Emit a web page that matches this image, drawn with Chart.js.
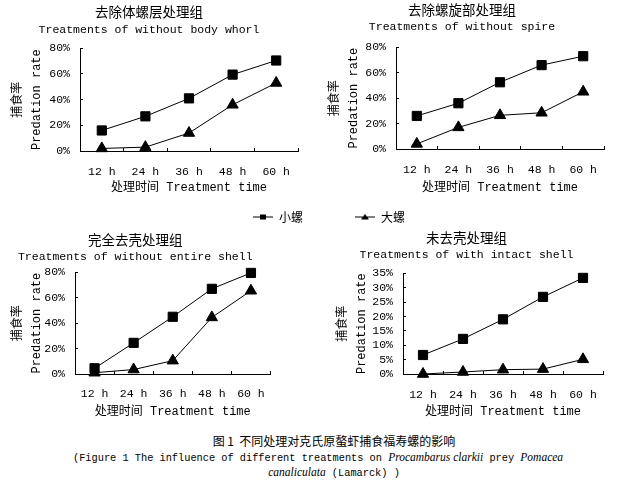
<!DOCTYPE html>
<html><head><meta charset="utf-8">
<script src="https://cdn.jsdelivr.net/npm/chart.js@4.4.1/dist/chart.umd.min.js"></script>
<style>
html,body{margin:0;padding:0;width:618px;height:489px;overflow:hidden;background:#fff;position:relative;}
canvas{position:absolute;}
.cap{position:absolute;white-space:nowrap;color:#000;line-height:14px;}
.cn{font-family:'Noto Sans CJK SC',sans-serif;font-size:12px;}
.en{font-family:'Liberation Mono',monospace;font-size:10.3px;}
.it{font-family:'Liberation Serif',serif;font-style:italic;font-size:11.5px;}
</style></head><body>
<canvas id="legendCanvas" width="300" height="90" style="left:179px;top:159px"></canvas>
<canvas id="c1" width="352" height="200" style="left:0;top:0"></canvas>
<canvas id="c2" width="400" height="200" style="left:320px;top:0"></canvas>
<canvas id="c3" width="360" height="200" style="left:0;top:228px"></canvas>
<canvas id="c4" width="330" height="200" style="left:330px;top:226px"></canvas>
<div class="cap cn" style="left:134px;width:400px;text-align:center;top:434px">图 1&nbsp;&nbsp;不同处理对克氏原螯虾捕食福寿螺的影响</div>
<div class="cap en" style="left:73px;top:450px">(Figure 1 The influence of different treatments on <span class="it">Procambarus clarkii</span> prey <span class="it">Pomacea</span></div>
<div class="cap en" style="left:134px;width:400px;text-align:center;top:465px"><span class="it">canaliculata</span> (Lamarck) )</div>
<script>
// ---- data ----
const timeLabels = ['12 h', '24 h', '36 h', '48 h', '60 h'];
const seriesNames = ['小螺', '大螺'];
const yTitle = ['捕食率', 'Predation rate'];
const xTitle = '处理时间 Treatment time';

const bodyWhorlTitle = ['去除体螺层处理组', 'Treatments of without body whorl'];
const bodyWhorlSmall = [16, 27, 41, 59.5, 70.5];
const bodyWhorlLarge = [2, 3, 14, 36, 53];

const spireTitle = ['去除螺旋部处理组', 'Treatments of without spire'];
const spireSmall = [26, 36, 52.5, 66, 73];
const spireLarge = [4, 17, 26.5, 28.5, 45];

const entireShellTitle = ['完全去壳处理组', 'Treatments of without entire shell'];
const entireShellSmall = [4.5, 24.5, 45, 67, 79.5];
const entireShellLarge = [1, 3.5, 10.5, 44.5, 65.5];

const intactShellTitle = ['未去壳处理组', 'Treatments of with intact shell'];
const intactShellSmall = [6.6, 12.2, 19, 26.8, 33.4];
const intactShellLarge = [0, 0.7, 1.5, 1.7, 5.1];

const yMaxes = [80, 80, 80, 35];
const ySteps = [20, 20, 20, 5];

// ---- rendering ----
const MONO = "'Liberation Mono', 'Noto Sans CJK SC', monospace";
const CJK = "'Noto Sans CJK SC', sans-serif";
Chart.defaults.color = '#000';

function makePanel(id, titles, small, large, yMax, yStep, L) {
  new Chart(document.getElementById(id), {
    type: 'line',
    data: {
      labels: timeLabels,
      datasets: [
        {label: seriesNames[0], data: small, borderColor: '#000', backgroundColor: '#000', borderWidth: 1,
         pointStyle: 'rect', pointRadius: 6.5, pointBorderWidth: 1, tension: 0, clip: false},
        {label: seriesNames[1], data: large, borderColor: '#000', backgroundColor: '#000', borderWidth: 1,
         pointStyle: 'triangle', pointRadius: 6.5, pointBorderWidth: 1, tension: 0, clip: false}
      ]
    },
    options: {
      responsive: false, animation: false, events: [],
      layout: {padding: {left: 0, right: L.padR, top: 0, bottom: 0}},
      plugins: {
        legend: {display: false},
        tooltip: {enabled: false},
        title: {display: true, text: titles[0], color: '#000',
                font: {family: CJK, size: 13.5, weight: 'normal', lineHeight: 1.2},
                padding: {top: L.t1, bottom: 0}},
        subtitle: {display: true, text: titles[1], color: '#000',
                font: {family: MONO, size: 11.5, weight: 'normal', lineHeight: 1.2},
                padding: {top: L.t2, bottom: L.t3}}
      },
      scales: {
        x: {
          type: 'category', offset: true,
          grid: {display: true, offset: true, drawOnChartArea: false, drawTicks: true, tickLength: -3, color: '#000', lineWidth: 1},
          border: {display: true, color: '#000', width: 1},
          ticks: {color: '#000', font: {family: MONO, size: 11.5, lineHeight: 1.2}, padding: L.xPad, maxRotation: 0, autoSkip: false},
          title: {display: true, text: xTitle, color: '#000', font: {family: MONO, size: 12, lineHeight: 1.2},
                  padding: {top: 0, bottom: L.xtPad}},
          afterFit: s => { s.height = L.xH; }
        },
        y: {
          type: 'linear', min: 0, max: yMax,
          grid: {display: true, drawOnChartArea: false, drawTicks: true, tickLength: -3, color: '#000', lineWidth: 1},
          border: {display: true, color: '#000', width: 1},
          ticks: {stepSize: yStep, autoSkip: false, callback: v => v + '%', color: '#000', font: {family: MONO, size: 11.5}, padding: 13},
          title: {display: true, text: yTitle, color: '#000', font: {family: MONO, size: 12, lineHeight: 1.6},
                  padding: {top: L.ytPad, bottom: 0}},
          afterFit: s => { s.width = L.yW; }
        }
      }
    }
  });
}

makePanel('c1', bodyWhorlTitle, bodyWhorlSmall, bodyWhorlLarge, yMaxes[0], ySteps[0],
  {padR: 54, t1: 3.9, t2: 3.3, t3: 11.1, xPad: 17, xtPad: 4.8, xH: 49, yW: 80, ytPad: 8.4});
makePanel('c2', spireTitle, spireSmall, spireLarge, yMaxes[1], ySteps[1],
  {padR: 116, t1: 1.9, t2: 2.3, t3: 13.1, xPad: 17, xtPad: 4.8, xH: 51, yW: 76, ytPad: 5.4});
makePanel('c3', entireShellTitle, entireShellSmall, entireShellLarge, yMaxes[2], ySteps[2],
  {padR: 89.5, t1: 3.9, t2: 2.3, t3: 8.1, xPad: 16, xtPad: 8.8, xH: 54, yW: 75, ytPad: 8.4});
makePanel('c4', intactShellTitle, intactShellSmall, intactShellLarge, yMaxes[3], ySteps[3],
  {padR: 57, t1: 3.9, t2: 2.3, t3: 11.1, xPad: 17, xtPad: 6.8, xH: 52, yW: 73, ytPad: 3.4});

// ---- legend (line + marker swatches) ----
function swatch(kind) {
  const c = document.createElement('canvas');
  c.width = 20; c.height = 9;
  const g = c.getContext('2d');
  g.strokeStyle = '#000'; g.fillStyle = '#000'; g.lineWidth = 1;
  g.beginPath(); g.moveTo(0, 4.5); g.lineTo(20, 4.5); g.stroke();
  if (kind === 'rect') { g.fillRect(7, 2, 6, 5); }
  else { g.beginPath(); g.moveTo(10, 1.5); g.lineTo(14, 7); g.lineTo(6, 7); g.closePath(); g.fill(); }
  return c;
}
const swatches = [swatch('rect'), swatch('triangle')];
new Chart(document.getElementById('legendCanvas'), {
  type: 'line',
  data: {labels: [], datasets: seriesNames.map(n => ({label: n, data: []}))},
  options: {
    responsive: false, animation: false, events: [],
    scales: {x: {display: false}, y: {display: false}},
    plugins: {
      tooltip: {enabled: false},
      legend: {display: true, position: 'top', maxHeight: 90,
        labels: {usePointStyle: true, pointStyleWidth: 20, padding: 52, color: '#000',
          font: {family: CJK, size: 12},
          generateLabels: chart => chart.data.datasets.map((d, i) => ({
            text: d.label, pointStyle: swatches[i], datasetIndex: i, hidden: false,
            fillStyle: '#000', strokeStyle: '#000', lineWidth: 0, fontColor: '#000'}))
        }}
    }
  }
});
</script>
</body></html>
